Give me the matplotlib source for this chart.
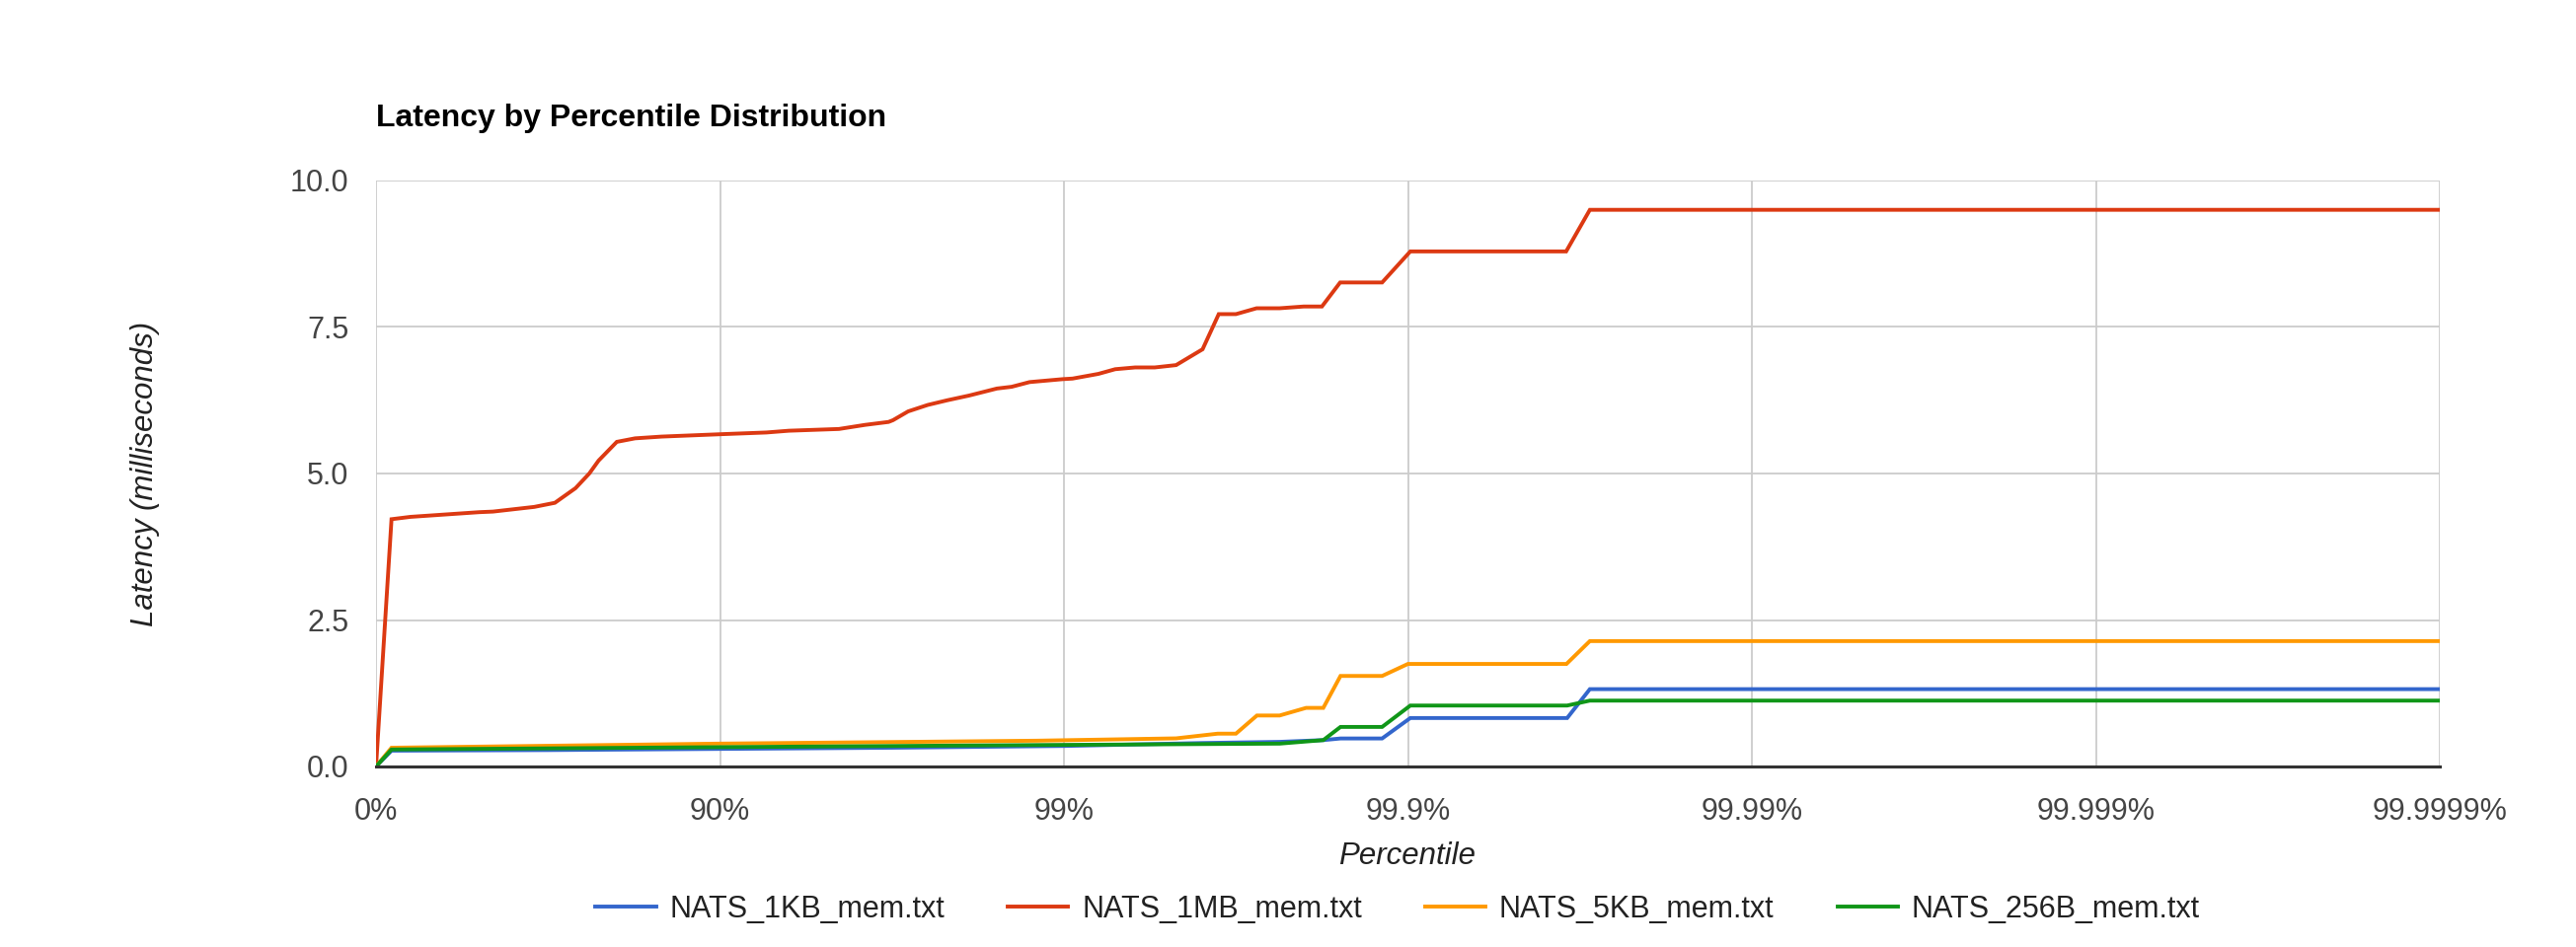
import numpy as np
import matplotlib
matplotlib.use('Agg')
import matplotlib.pyplot as plt
from matplotlib.ticker import FixedLocator, FixedFormatter

plt.rcParams['font.family'] = ['Liberation Sans', 'DejaVu Sans']

# x values are "nines": log10(1 / (1 - percentile))
series_names = ['NATS_1KB_mem.txt', 'NATS_1MB_mem.txt', 'NATS_5KB_mem.txt', 'NATS_256B_mem.txt']
series_colors = ['#3366cc', '#dc3912', '#ff9900', '#109618']

nines_1kb = [0, 0.045, 0.5, 1.0, 1.5, 2.0, 2.4, 2.627, 2.754, 2.804, 2.925, 3.007, 3.463, 3.529, 6.0]
lat_1kb = [0, 0.27, 0.28, 0.30, 0.32, 0.35, 0.40, 0.42, 0.45, 0.478, 0.478, 0.827, 0.827, 1.32, 1.32]

nines_1mb = [0, 0.045, 0.10, 0.2, 0.3, 0.34, 0.4, 0.46, 0.52, 0.58, 0.62, 0.647, 0.70, 0.753,
             0.83, 1.0, 1.135, 1.2, 1.346, 1.422, 1.49, 1.503, 1.547, 1.604, 1.661, 1.724,
             1.805, 1.848, 1.90, 1.996, 2.025, 2.10, 2.149, 2.207, 2.264, 2.326, 2.403, 2.45,
             2.50, 2.56, 2.627, 2.697, 2.75, 2.803, 2.925, 3.007, 3.46, 3.529, 6.0]
lat_1mb = [0, 4.22, 4.26, 4.30, 4.34, 4.35, 4.39, 4.43, 4.50, 4.75, 5.0, 5.22, 5.54, 5.60,
           5.63, 5.67, 5.70, 5.73, 5.76, 5.83, 5.88, 5.91, 6.06, 6.17, 6.25, 6.33,
           6.45, 6.48, 6.56, 6.61, 6.62, 6.70, 6.78, 6.81, 6.81, 6.85, 7.12, 7.72,
           7.72, 7.82, 7.82, 7.85, 7.85, 8.26, 8.26, 8.79, 8.79, 9.50, 9.50]

nines_5kb = [0, 0.045, 1.0, 1.92, 2.326, 2.447, 2.50, 2.561, 2.627, 2.704, 2.754, 2.804,
             2.925, 3.0, 3.461, 3.529, 6.0]
lat_5kb = [0, 0.32, 0.39, 0.44, 0.48, 0.56, 0.56, 0.87, 0.87, 1.00, 1.00, 1.545,
           1.545, 1.75, 1.75, 2.14, 2.14]

nines_256b = [0, 0.045, 1.0, 1.92, 2.627, 2.754, 2.804, 2.925, 3.007, 3.463, 3.529, 6.0]
lat_256b = [0, 0.29, 0.33, 0.366, 0.39, 0.45, 0.675, 0.675, 1.04, 1.04, 1.124, 1.124]

x_ticks = [0, 1, 2, 3, 4, 5, 6]
x_labels = ['0%', '90%', '99%', '99.9%', '99.99%', '99.999%', '99.9999%']
y_ticks = [0, 2.5, 5.0, 7.5, 10.0]
y_labels = ['0.0', '2.5', '5.0', '7.5', '10.0']

fig = plt.figure(figsize=(26.1, 9.6), dpi=100)
ax = fig.add_axes([381 / 2610, 1 - 777 / 960, 2091 / 2610, 594 / 960])

all_x = [nines_1kb, nines_1mb, nines_5kb, nines_256b]
all_y = [lat_1kb, lat_1mb, lat_5kb, lat_256b]
for xs, ys, name, col in zip(all_x, all_y, series_names, series_colors):
    ax.plot(xs, ys, color=col, lw=2.8, label=name, solid_joinstyle='miter', zorder=3)

ax.set_xlim(0, 6)
ax.set_ylim(0, 10)
ax.xaxis.set_major_locator(FixedLocator(x_ticks))
ax.xaxis.set_major_formatter(FixedFormatter(x_labels))
ax.yaxis.set_major_locator(FixedLocator(y_ticks))
ax.yaxis.set_major_formatter(FixedFormatter(y_labels))
ax.tick_params(length=0, labelsize=22, labelcolor='#444444', pad=20)
ax.tick_params(axis='x', pad=22)
ax.grid(True, color='#cccccc', lw=1.3, zorder=0)
for s in ['left', 'right', 'top']:
    ax.spines[s].set_visible(False)
ax.spines['bottom'].set_color('#333333')
ax.spines['bottom'].set_linewidth(2.2)
ax.spines['bottom'].set_zorder(4)

fig.text(381 / 2610, 1 - 128 / 960, 'Latency by Percentile Distribution',
         fontsize=23, fontweight='bold', color='black', ha='left', va='baseline')
fig.text(147 / 2610, 0.5, 'Latency (milliseconds)', rotation=90, fontsize=22.5,
         style='italic', color='#222222', ha='center', va='center')
fig.text(1426 / 2610, 1 - 868 / 960, 'Percentile', fontsize=22.5,
         style='italic', color='#222222', ha='center', va='center')

fig.legend(loc='center', bbox_to_anchor=(1416 / 2610, 1 - 922 / 960), ncol=4,
           frameon=False, fontsize=22, handlelength=2.0, handletextpad=0.45,
           columnspacing=2.1, labelcolor='#222222')

fig.savefig('out.png', dpi=100, facecolor='white')
